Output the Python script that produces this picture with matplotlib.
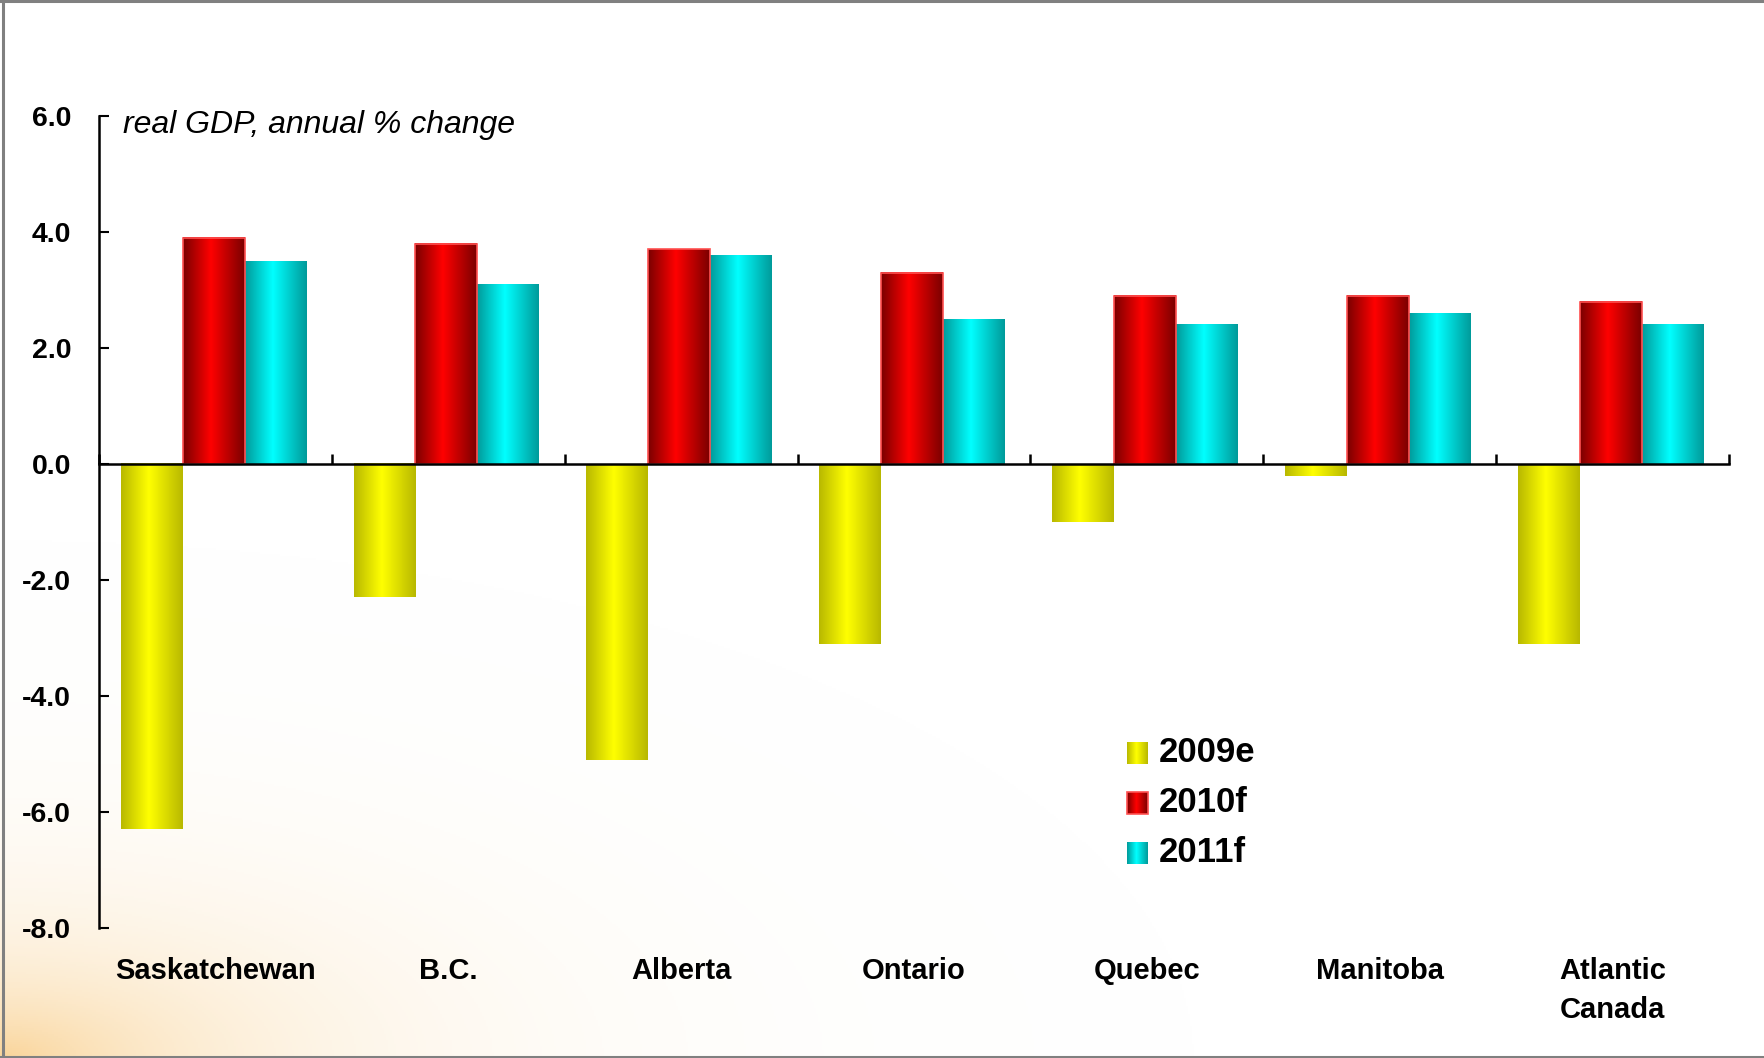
import numpy as np
import matplotlib
matplotlib.use("Agg")
import matplotlib.pyplot as plt
from matplotlib.colors import LinearSegmentedColormap
from matplotlib.lines import Line2D

plt.rcParams['font.family'] = ['Liberation Sans', 'DejaVu Sans']
plt.rcParams['axes.unicode_minus'] = False

# ---- data ----
categories = ["Saskatchewan", "B.C.", "Alberta", "Ontario", "Quebec", "Manitoba", "Atlantic\nCanada"]
series_names = ["2009e", "2010f", "2011f"]
gdp_2009e = [-6.3, -2.3, -5.1, -3.1, -1.0, -0.2, -3.1]
gdp_2010f = [3.9, 3.8, 3.7, 3.3, 2.9, 2.9, 2.8]
gdp_2011f = [3.5, 3.1, 3.6, 2.5, 2.4, 2.6, 2.4]
y_ticks = [-8.0, -6.0, -4.0, -2.0, 0.0, 2.0, 4.0, 6.0]
y_label_text = "real GDP, annual % change"

series_values = [gdp_2009e, gdp_2010f, gdp_2011f]
grad_colors = [
    ("#b8b800", "#ffff00"),
    ("#7a0000", "#ff0000"),
    ("#009a9a", "#00ffff"),
]
edge_colors = ["none", "#ff5050", "none"]

cmaps = [LinearSegmentedColormap.from_list(
    "g%d" % i, [(0.0, d), (0.45, b), (1.0, d)]) for i, (d, b) in enumerate(grad_colors)]
grad = np.linspace(0, 1, 256).reshape(1, -1)

W, H = 1764, 1058
fig = plt.figure(figsize=(W / 100, H / 100), dpi=100)
fig.patch.set_facecolor("white")

# background glow (bottom-left)
bg = fig.add_axes([0, 0, 1, 1], zorder=0)
bg.set_axis_off()
yy, xx = np.mgrid[0:H:2, 0:W:2]
d = np.sqrt((xx * 1.0) ** 2 + ((H - yy) * 2.3) ** 2)
alpha = np.clip(0.7 * np.exp(-d / 230.0), 0, 1)
img = np.ones((yy.shape[0], yy.shape[1], 4))
img[..., 0] = 0.97
img[..., 1] = 0.76
img[..., 2] = 0.42
img[..., 3] = alpha
bg.imshow(img, extent=[0, W, H, 0], aspect='auto')
bg.set_xlim(0, W)
bg.set_ylim(H, 0)

# border lines (top, left, bottom)
for xs, ys in [([0, 1], [0.999, 0.999]), ([0.0015, 0.0015], [0, 1]), ([0, 1], [0.001, 0.001])]:
    fig.add_artist(Line2D(xs, ys, transform=fig.transFigure, color="#808080", lw=2.2, zorder=10))

ax_left, ax_right = 99 / W, 1729 / W
ax_bottom, ax_top = 1 - 928 / H, 1 - 116 / H
ax = fig.add_axes([ax_left, ax_bottom, ax_right - ax_left, ax_top - ax_bottom], zorder=1)
ax.patch.set_alpha(0)

n = len(categories)
x = np.arange(n)
bw = 0.266
offsets = [-bw, 0.0, bw]

for si, vals in enumerate(series_values):
    bars = ax.bar(x + offsets[si] - 0.008, vals, width=bw, color="none",
                  edgecolor=edge_colors[si], linewidth=1.2, zorder=3)
    for rect in bars:
        x0 = rect.get_x()
        x1 = x0 + rect.get_width()
        y0 = rect.get_y()
        y1 = y0 + rect.get_height()
        ax.imshow(grad, cmap=cmaps[si], extent=[x0, x1, min(y0, y1), max(y0, y1)],
                  aspect='auto', zorder=2, interpolation='bilinear')

ax.set_xlim(-0.5, n - 0.5)
ax.set_ylim(y_ticks[0], y_ticks[-1])

for s in ["top", "right"]:
    ax.spines[s].set_visible(False)
ax.spines["bottom"].set_position(("data", 0))
ax.spines["bottom"].set_linewidth(1.8)
ax.spines["left"].set_linewidth(1.8)
ax.spines["bottom"].set_zorder(5)

ax.set_xticks(np.arange(-0.5, n, 1.0))
ax.set_xticklabels([])
ax.tick_params(axis='x', direction='in', length=7, width=1.8)
ax.set_yticks(y_ticks)
ax.set_yticklabels(["%.1f" % v for v in y_ticks], fontsize=20.5, fontweight='bold')
ax.tick_params(axis='y', direction='in', length=7, width=1.5, pad=20)

for i, c in enumerate(categories):
    ax.annotate(c, xy=(i, 0), xycoords=('data', 'axes fraction'),
                xytext=(0, -21), textcoords='offset points',
                ha='center', va='top', fontsize=21, fontweight='bold',
                linespacing=1.48)

ax.text(0.0147, 0.989, y_label_text, transform=ax.transAxes, ha='left', va='center',
        fontsize=23, fontstyle='italic')

# legend (manual, gradient swatches)
leg_y = [753, 803, 853]
for si, name in enumerate(series_names):
    yc = leg_y[si]
    sw = fig.add_axes([1127 / W, 1 - (yc + 11) / H, 21 / W, 22 / H], zorder=2)
    sw.imshow(grad, cmap=cmaps[si], aspect='auto', extent=[0, 1, 0, 1])
    sw.set_axis_off()
    if edge_colors[si] != "none":
        sw.add_patch(plt.Rectangle((0, 0), 1, 1, fill=False, edgecolor=edge_colors[si],
                                   lw=1.2, transform=sw.transAxes, clip_on=False))
    fig.text(1159 / W, 1 - yc / H, name, ha='left', va='center', fontsize=25,
             fontweight='bold')

fig.savefig("out.png", dpi=100)
